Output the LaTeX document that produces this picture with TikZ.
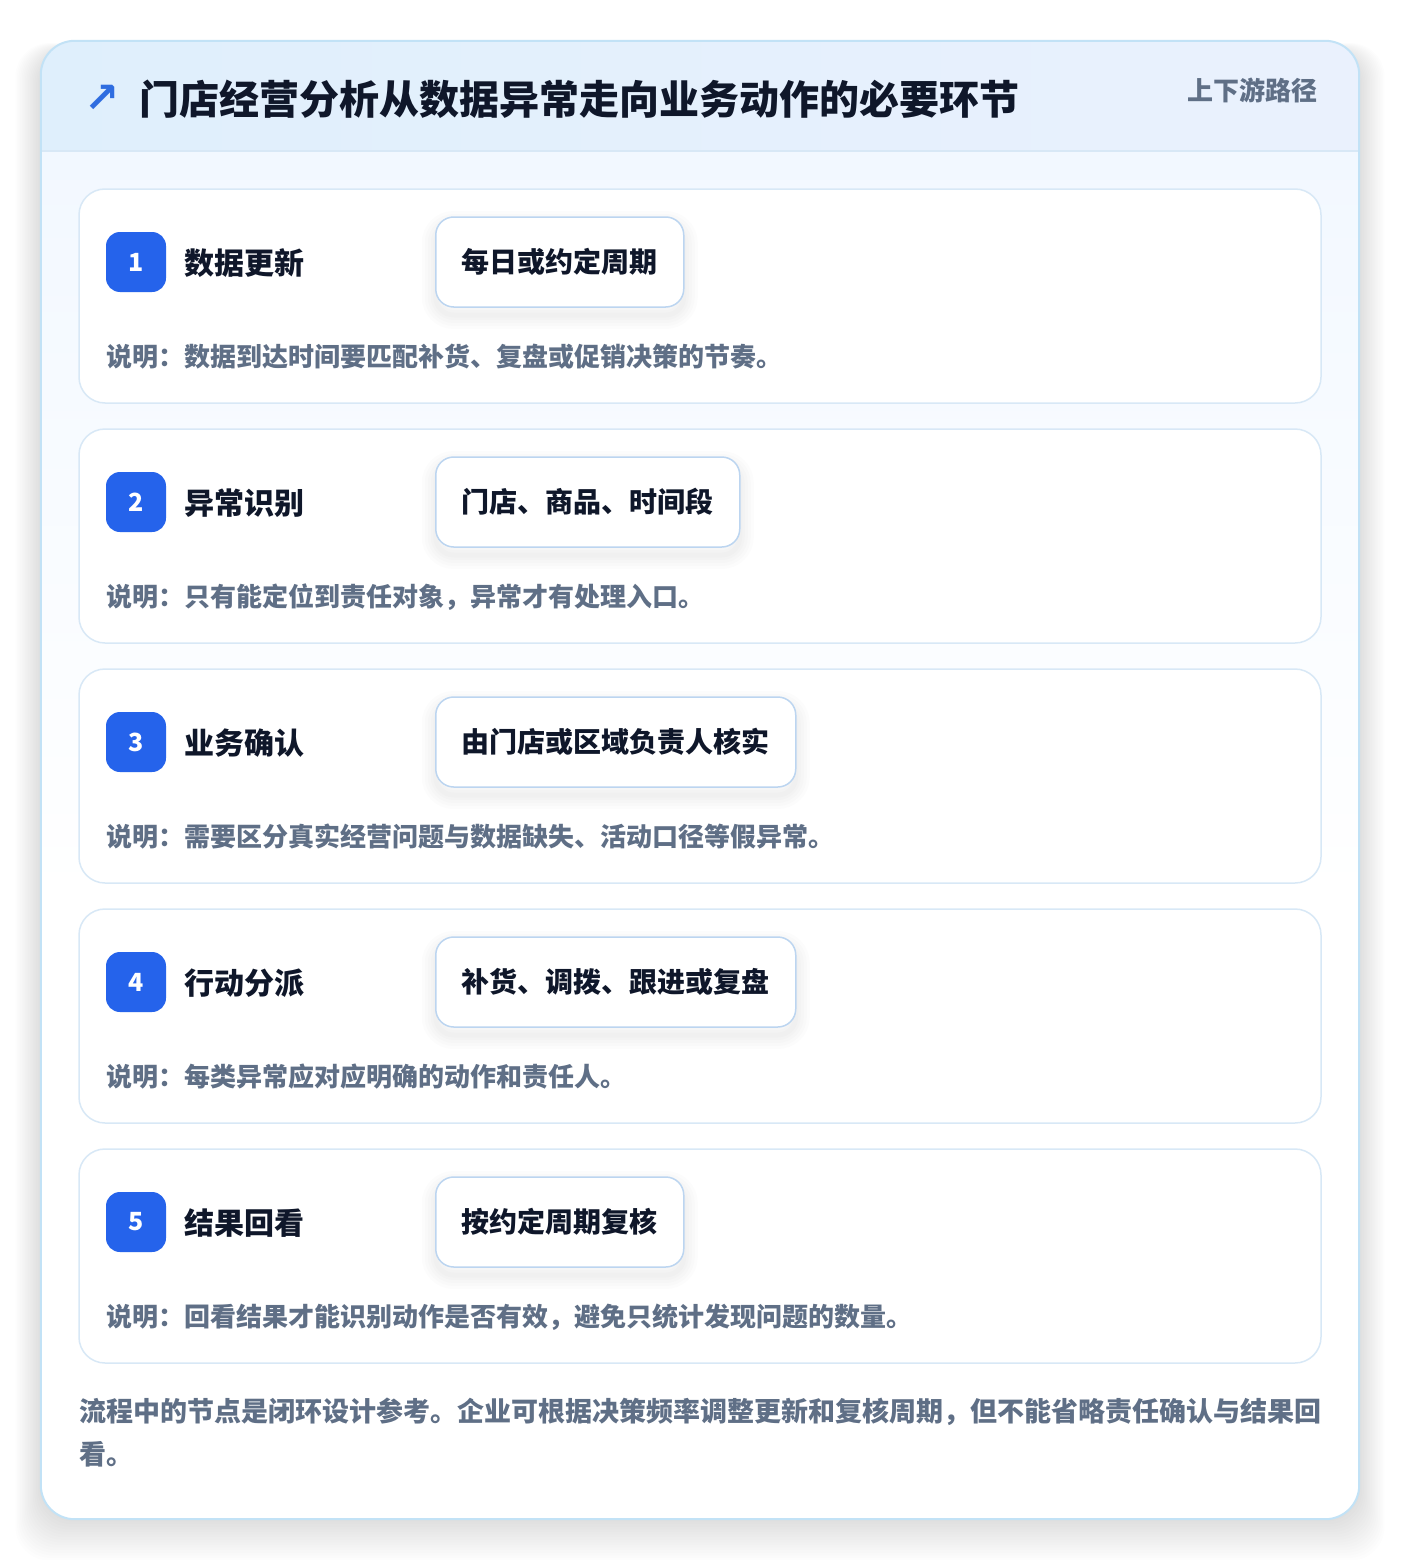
\documentclass[tikz,border=0pt]{standalone}
\usepackage{fontspec}
\setmainfont{Noto Sans CJK SC}
\newfontfamily\symfont{DejaVu Sans}
\definecolor{outerborder}{HTML}{C2E2F6}
\definecolor{cardborder}{HTML}{D8E8F6}
\definecolor{pillborder}{HTML}{BCD5F0}
\definecolor{badgeblue}{HTML}{2563EB}
\definecolor{titlecol}{HTML}{0F172A}
\definecolor{desccol}{HTML}{5F6F86}
\definecolor{headL}{HTML}{DFEFFC}
\definecolor{headR}{HTML}{EAF1FD}
\definecolor{bodyTop}{HTML}{F2F8FF}
\definecolor{arrowblue}{HTML}{2F6DE0}
\tikzset{
  card/.style={draw=cardborder, line width=1.5pt, fill=white, rounded corners=26pt,
    minimum width=1242pt, minimum height=214pt, inner sep=0pt},
  badge/.style={fill=badgeblue, rounded corners=14pt, minimum width=60pt, minimum height=60pt,
    inner sep=0pt, text=white, font=\bfseries\fontsize{25}{28}\selectfont},
  steptitle/.style={anchor=west, inner sep=0pt, text=titlecol, font=\bfseries\fontsize{30}{36}\selectfont},
  softshadow/.style={preaction={draw=black, line width=#1, draw opacity=0.012,
      transform canvas={yshift=-8pt}}},
  pill/.style={anchor=west, draw=pillborder, line width=1.5pt, fill=white, rounded corners=18pt,
    minimum height=90pt, inner xsep=26pt, inner ysep=0pt, text=titlecol,
    font=\bfseries\fontsize{28}{34}\selectfont,
    softshadow=28pt, softshadow=22pt, softshadow=16pt, softshadow=10pt, softshadow=5pt},
  desc/.style={anchor=west, inner sep=0pt, text=desccol, font=\bfseries\fontsize{26}{32}\selectfont},
}
\begin{document}
\begin{tikzpicture}[x=1pt,y=-1pt]
\useasboundingbox (0,0) rectangle (1400,1560);
\fill[white] (0,0) rectangle (1400,1560);
% outer shadow
\foreach \i in {1,...,16}{
  \fill[black, opacity=0.008, rounded corners=34pt] (41-1.6*\i,41-0.5*\i+10) rectangle (1359+1.6*\i,1519+2.6*\i);
}
% outer frame
\node[draw=none, fill=white, rounded corners=34pt, minimum width=1318pt, minimum height=1478pt, inner sep=0pt] (frame) at (700,780) {};
\begin{scope}
  \clip[rounded corners=34pt] (41,41) rectangle (1359,1519);
  \shade[top color=bodyTop, bottom color=white] (41,151) rectangle (1359,900);
  \shade[left color=headL, right color=headR] (41,41) rectangle (1359,151);
\end{scope}
\draw[cardborder, line width=1.5pt] (41,151) -- (1359,151);
\draw[outerborder, line width=2pt, rounded corners=34pt] (frame.north west) rectangle (frame.south east);

% header
\node[anchor=center, inner sep=0pt, text=arrowblue, font=\symfont\bfseries\fontsize{42}{46}\selectfont] (arrow) at (102,99) {↗};
\node[anchor=west, inner sep=0pt, text=titlecol, font=\bfseries\fontsize{40}{48}\selectfont] (title) at (139,99) {门店经营分析从数据异常走向业务动作的必要环节};
\node[anchor=east, inner sep=0pt, text=desccol, font=\bfseries\fontsize{26}{30}\selectfont] (tag) at (1318,90) {上下游路径};

% cards
\foreach \n/\t/\p/\d [count=\k from 0] in {
  1/数据更新/每日或约定周期/说明：数据到达时间要匹配补货、复盘或促销决策的节奏。,
  2/异常识别/门店、商品、时间段/说明：只有能定位到责任对象，异常才有处理入口。,
  3/业务确认/由门店或区域负责人核实/说明：需要区分真实经营问题与数据缺失、活动口径等假异常。,
  4/行动分派/补货、调拨、跟进或复盘/说明：每类异常应对应明确的动作和责任人。,
  5/结果回看/按约定周期复核/说明：回看结果才能识别动作是否有效，避免只统计发现问题的数量。}{
  \pgfmathsetmacro{\cy}{296+240*\k}
  \node[card] (card\n) at (700,\cy) {};
  \node[pill] (pill\n) at (435,\cy-34) {\p};
  \node[badge] (badge\n) at (136,\cy-34) {\n};
  \node[steptitle] (title\n) at (184,\cy-33) {\t};
  \node[desc] (desc\n) at (106,\cy+61) {\d};
}

% footer
\node[anchor=north west, inner sep=0pt, align=left, text=desccol, font=\bfseries\fontsize{27}{43}\selectfont] (footer) at (79,1398) {流程中的节点是闭环设计参考。企业可根据决策频率调整更新和复核周期，但不能省略责任确认与结果回\\看。};
\end{tikzpicture}
\end{document}
